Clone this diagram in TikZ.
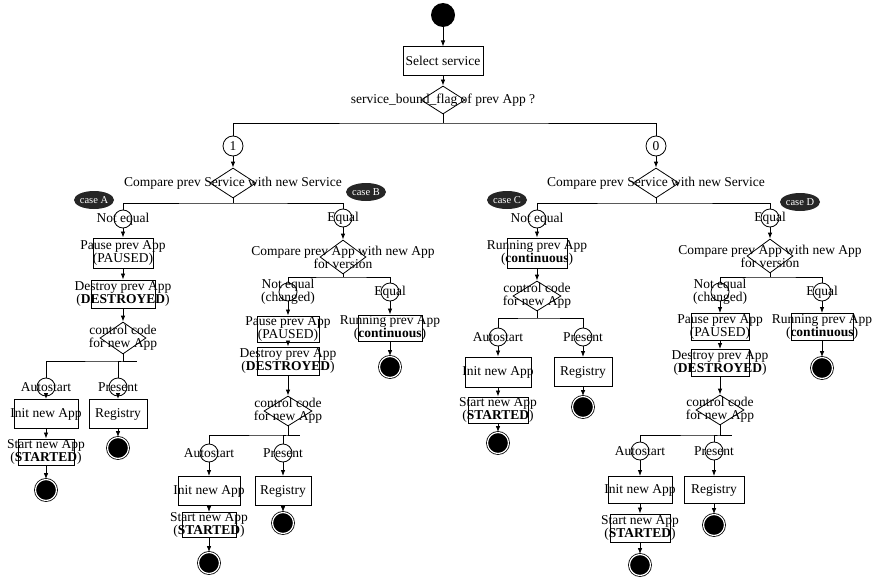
\documentclass[tikz,border=0pt]{standalone}
\usepackage{fontspec}
\setmainfont{Liberation Serif}
\usetikzlibrary{shapes.geometric,arrows.meta}
\newcommand{\ovr}[1]{\makebox[0pt]{#1}}

\begin{document}
\begin{tikzpicture}[x=1pt,y=-1pt,
  font=\fontsize{13.5}{13}\selectfont, line width=0.8pt,
  >={Latex[length=6pt,width=4.5pt]},
  actbox/.style={draw, line width=1pt, minimum height=28, inner sep=0, align=center},
  decide/.style={diamond, draw, minimum width=46, minimum height=30, inner sep=0, align=center},
  joint/.style={circle, draw, minimum size=18, inner sep=0, align=center},
  casetag/.style={ellipse, fill=black!85, text=white, minimum width=40, minimum height=18, inner sep=0, font=\fontsize{10.5}{10}\selectfont},
  startpt/.style={circle, fill=black, minimum size=24, inner sep=0},
  endpt/.style={circle, fill=black, draw=black, double=white, double distance=1.2pt, minimum size=21, inner sep=0}]
\useasboundingbox (0,0) rectangle (875,578);

% top
\node[startpt] (start) at (443,15) {};
\node[actbox, minimum width=80] (sel) at (443,61) {Select service};
\node[decide, minimum width=44, minimum height=28] (flag) at (443,100) {\ovr{service\_bound\_flag of prev App ?}};
\coordinate (b0) at (443,123);
\node[joint, minimum size=20] (one) at (233,146) {1};
\node[joint, minimum size=20] (zero) at (656,146) {0};
\node[decide] (cmpA) at (233,183) {\ovr{Compare prev Service with new Service}};
\node[decide] (cmpC) at (656,183) {\ovr{Compare prev Service with new Service}};
\coordinate (kA) at (233,203);
\coordinate (kC) at (656,203);

\node[casetag] (tagA) at (94,200) {case A};
\node[casetag] (tagB) at (366,192) {case B};
\node[casetag] (tagC) at (507,200) {case C};
\node[casetag] (tagD) at (800,202) {case D};

% case A
\node[joint] (neA) at (123,219) {\ovr{Not equal}};
\node[actbox, minimum width=60, minimum height=30] (pauA) at (123,253) {\ovr{Pause prev App}\\\ovr{(PAUSED)}};
\node[actbox, minimum width=64] (desA) at (123,294) {\ovr{Destroy prev App}\\\ovr{(\textbf{DESTROYED})}};
\node[decide, minimum height=32] (ccA) at (123,338) {\ovr{control code}\\\ovr{for new App}};
\coordinate (kcA) at (123,361);
\coordinate (xA) at (137,361);
\node[joint] (auA) at (46,387) {\ovr{Autostart}};
\node[joint] (prA) at (118,387) {\ovr{Present}};
\node[actbox, minimum width=64, minimum height=29] (iniA) at (46,414) {\ovr{Init new App}};
\node[actbox, minimum width=58, minimum height=29] (regA) at (118,414) {Registry};
\node[actbox, minimum width=56, minimum height=26] (staA) at (46,452) {\ovr{Start new App}\\\ovr{(\textbf{STARTED})}};
\node[endpt] (endA1) at (46,490) {};
\node[endpt] (endA2) at (118,448) {};

% case B
\node[joint] (eqB) at (343,218) {\ovr{Equal}};
\node[decide, minimum height=34] (cmpB) at (343,257) {\ovr{Compare prev App with new App}\\\ovr{for version}};
\coordinate (kB) at (343,277);
\node[joint, label={[align=center, inner sep=0]center:Not equal\\(changed)}] (ncB) at (288,292) {};
\node[joint] (eqB2) at (390,292) {\ovr{Equal}};
\node[actbox, minimum width=62, minimum height=26] (pauB) at (288,329) {\ovr{Pause prev App}\\\ovr{(PAUSED)}};
\node[actbox, minimum width=64, minimum height=26] (runB) at (390,328) {\ovr{Running prev App}\\\ovr{(\textbf{continuous})}};
\node[endpt] (endB0) at (390,367) {};
\node[actbox, minimum width=62] (desB) at (288,361) {\ovr{Destroy prev App}\\\ovr{(\textbf{DESTROYED})}};
\node[decide, minimum width=48] (ccB) at (288,411) {\ovr{control code}\\\ovr{for new App}};
\coordinate (kcB) at (288,435);
\coordinate (xB) at (300,435);
\node[joint] (auB) at (209,453) {\ovr{Autostart}};
\node[joint] (prB) at (283,453) {\ovr{Present}};
\node[actbox, minimum width=62, minimum height=29] (iniB) at (209,491) {\ovr{Init new App}};
\node[actbox, minimum width=56, minimum height=29] (regB) at (283,491) {Registry};
\node[actbox, minimum width=54, minimum height=25] (staB) at (209,525) {\ovr{Start new App}\\\ovr{(\textbf{STARTED})}};
\node[endpt] (endB1) at (209,563) {};
\node[endpt] (endB2) at (283,523) {};

% case C
\node[joint] (neC) at (537,219) {\ovr{Not equal}};
\node[actbox, minimum width=60, minimum height=30] (runC) at (537,253) {\ovr{Running prev App}\\\ovr{(\textbf{continuous})}};
\node[decide, minimum width=48] (ccC) at (537,296) {\ovr{control code}\\\ovr{for new App}};
\coordinate (kcC) at (537,318);
\node[joint] (auC) at (498,337) {\ovr{Autostart}};
\node[joint] (prC) at (583,337) {\ovr{Present}};
\node[actbox, minimum width=66, minimum height=30] (iniC) at (498,372) {\ovr{Init new App}};
\node[actbox, minimum width=58, minimum height=29] (regC) at (583,372) {Registry};
\node[actbox, minimum width=60, minimum height=26] (staC) at (498,410) {\ovr{Start new App}\\\ovr{(\textbf{STARTED})}};
\node[endpt] (endC1) at (498,443) {};
\node[endpt] (endC2) at (583,407) {};

% case D
\node[joint] (eqD) at (770,218) {\ovr{Equal}};
\node[decide, minimum height=34] (cmpD) at (770,256) {\ovr{Compare prev App with new App}\\\ovr{for version}};
\coordinate (kD) at (770,277);
\node[joint, label={[align=center, inner sep=0]center:Not equal\\(changed)}] (ncD) at (720,292) {};
\node[joint] (eqD2) at (822,292) {\ovr{Equal}};
\node[actbox, minimum width=58, minimum height=27] (pauD) at (720,327) {\ovr{Pause prev App}\\\ovr{(PAUSED)}};
\node[actbox, minimum width=62, minimum height=27] (runD) at (822,327) {\ovr{Running prev App}\\\ovr{(\textbf{continuous})}};
\node[endpt] (endD0) at (822,368) {};
\node[actbox, minimum width=58, minimum height=27] (desD) at (720,363) {\ovr{Destroy prev App}\\\ovr{(\textbf{DESTROYED})}};
\node[decide, minimum width=48] (ccD) at (720,410) {\ovr{control code}\\\ovr{for new App}};
\coordinate (kcD) at (720,435);
\coordinate (xD) at (732,435);
\node[joint] (auD) at (640,451) {\ovr{Autostart}};
\node[joint] (prD) at (714,451) {\ovr{Present}};
\node[actbox, minimum width=64, minimum height=27] (iniD) at (640,490) {\ovr{Init new App}};
\node[actbox, minimum width=60, minimum height=27] (regD) at (714,490) {Registry};
\node[actbox, minimum width=60, minimum height=28] (staD) at (640,528) {\ovr{Start new App}\\\ovr{(\textbf{STARTED})}};
\node[endpt] (endD1) at (640,565) {};
\node[endpt] (endD2) at (714,525) {};

% arrows
\foreach \a/\b in {start/sel, sel/flag, one/cmpA, zero/cmpC,
  neA/pauA, pauA/desA, desA/ccA, auA/iniA, iniA/staA, staA/endA1, prA/regA, regA/endA2,
  eqB/cmpB, ncB/pauB, pauB/desB, desB/ccB, eqB2/runB, runB/endB0,
  auB/iniB, iniB/staB, staB/endB1, prB/regB, regB/endB2,
  neC/runC, runC/ccC, auC/iniC, iniC/staC, staC/endC1, prC/regC, regC/endC2,
  eqD/cmpD, ncD/pauD, pauD/desD, desD/ccD, eqD2/runD, runD/endD0,
  auD/iniD, iniD/staD, staD/endD1, prD/regD, regD/endD2}
  \draw[->] (\a) -- (\b);

% forks
\draw (flag) -- (b0);
\draw (one) |- (b0) -| (zero);
\draw (cmpA) -- (kA);
\draw (neA) |- (kA) -| (eqB);
\draw (cmpC) -- (kC);
\draw (neC) |- (kC) -| (eqD);
\draw (cmpB) -- (kB);
\draw (ncB) |- (kB) -| (eqB2);
\draw (cmpD) -- (kD);
\draw (ncD) |- (kD) -| (eqD2);
\draw (ccA) -- (kcA) -- (xA);
\draw (auA) |- (kcA) -| (prA);
\draw (ccB) -- (kcB) -- (xB);
\draw (auB) |- (kcB) -| (prB);
\draw (ccC) -- (kcC);
\draw (auC) |- (kcC) -| (prC);
\draw (ccD) -- (kcD) -- (xD);
\draw (auD) |- (kcD) -| (prD);
\end{tikzpicture}
\end{document}
